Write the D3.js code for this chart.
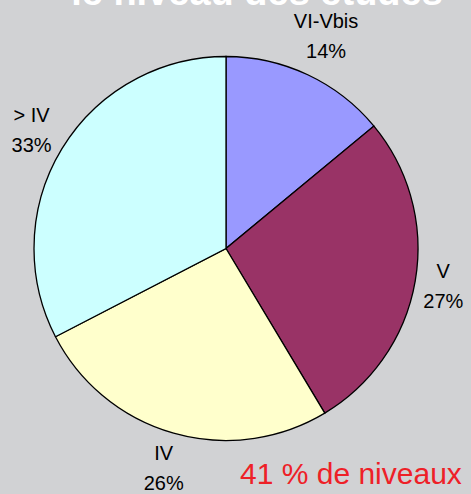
<!DOCTYPE html>
<html>
<head>
<meta charset="utf-8">
<script src="https://cdn.jsdelivr.net/npm/d3@7"></script>
<style>
  body { margin: 0; background: #d1d2d4; }
  svg { display: block; }
</style>
</head>
<body>
<div id="chart-area"></div>
<script>
const WIDTH = 471
const HEIGHT = 494

// data (underlying shares, labels show them rounded)
const categories = ["VI-Vbis", "V", "IV", "> IV"]
const values = [14.0, 27.4, 26.0, 32.6]
const colors = ["#9999ff", "#993366", "#ffffcc", "#ccffff"]
const titleText = "le niveau des études"
const noteText = "41 % de niveaux"

const data = categories.map((c, i) => ({ name: c, value: values[i], color: colors[i] }))

const svg = d3.select("#chart-area").append("svg")
  .attr("width", WIDTH)
  .attr("height", HEIGHT)

svg.append("rect")
  .attr("width", WIDTH)
  .attr("height", HEIGHT)
  .attr("fill", "#d1d2d4")

// title (cut off at top)
svg.append("text")
  .attr("x", 257)
  .attr("y", 5)
  .attr("text-anchor", "middle")
  .attr("font-family", "Liberation Sans, Arial, sans-serif")
  .attr("font-weight", "bold")
  .attr("font-size", 38)
  .attr("fill", "#ffffff")
  .text(titleText)

const CX = 226, CY = 248.5, R = 192

const g = svg.append("g")
  .attr("transform", `translate(${CX}, ${CY})`)

const pie = d3.pie().sort(null).value(d => d.value)
const arc = d3.arc().innerRadius(0).outerRadius(R)

const arcs = pie(data)

g.selectAll("path")
  .data(arcs)
  .enter().append("path")
  .attr("d", arc)
  .attr("fill", d => d.data.color)
  .attr("stroke", "#000")
  .attr("stroke-width", 1.3)

// labels outside, box pushed out along the mid angle
const FS = 20
const LINE = 30
const GAP = 4
const labels = g.selectAll(".label")
  .data(arcs)
  .enter().append("text")
  .attr("class", "label")
  .attr("font-family", "Liberation Sans, Arial, sans-serif")
  .attr("font-size", FS)
  .attr("fill", "#000")
  .attr("text-anchor", "middle")

labels.append("tspan").attr("class", "l1").text(d => d.data.name)
labels.append("tspan").attr("class", "l2").text(d => Math.round(d.value) + "%")

labels.each(function(d) {
  const t = d3.select(this)
  const a = (d.startAngle + d.endAngle) / 2
  const s = Math.sin(a), c = Math.cos(a)
  const w = Math.max(
    t.select(".l1").node().getComputedTextLength(),
    t.select(".l2").node().getComputedTextLength())
  const h = LINE * 2 - 4
  const dist = R + GAP + (w / 2) * Math.abs(s) + (h / 2) * Math.abs(c)
  const cx = dist * s
  const cy = -dist * c
  t.select(".l1").attr("x", cx).attr("y", cy - LINE / 2 + 7)
  t.select(".l2").attr("x", cx).attr("y", cy + LINE / 2 + 7)
})

// note
svg.append("text")
  .attr("x", 240)
  .attr("y", 484)
  .attr("font-family", "Liberation Sans, Arial, sans-serif")
  .attr("font-size", 30)
  .attr("fill", "#ee2027")
  .text(noteText)
</script>
</body>
</html>
